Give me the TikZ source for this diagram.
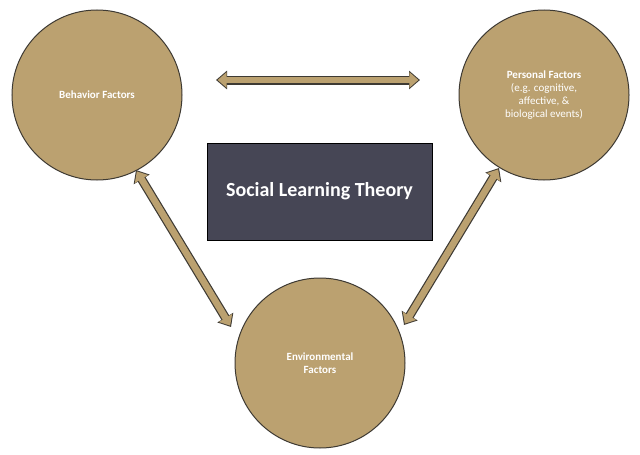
\documentclass[tikz,border=0pt]{standalone}
\usepackage{fontspec}
\setmainfont{Carlito}
\usetikzlibrary{arrows.meta}
\definecolor{tan}{HTML}{BBA170}
\definecolor{rim}{HTML}{3E3A33}
\definecolor{slate}{HTML}{464655}
\tikzset{
  circ/.style={circle,fill=tan,draw=rim,line width=1pt,minimum size=170pt,inner sep=0pt,text=white,align=center,font=\fontsize{11}{13}\selectfont},
  outerarr/.style={line width=9pt,draw=rim,{Triangle[width=18pt,length=11pt]}-{Triangle[width=18pt,length=11pt]}},
  innerarr/.style={line width=6.6pt,draw=tan,shorten <=1.6pt,shorten >=1.6pt,{Triangle[width=15pt,length=9pt]}-{Triangle[width=15pt,length=9pt]}}
}
\begin{document}
\begin{tikzpicture}[x=1pt,y=-1pt]
\useasboundingbox (0,0) rectangle (640,455);
\node[circ] (B) at (97,95) {\textbf{Behavior Factors}};
\node[circ] (P) at (544,95) {\textbf{Personal Factors}\\(e.g. cognitive,\\affective, \&\\biological events)};
\node[circ] (E) at (320,363) {\textbf{Environmental}\\\textbf{Factors}};
\node[draw=black,fill=slate,line width=0.8pt,minimum width=225pt,minimum height=97pt,text=white,font=\fontsize{20}{24}\selectfont\bfseries] (S) at (319.5,191.5) {Social Learning Theory};
\coordinate (h1) at (216,80); \coordinate (h2) at (420,80);
\coordinate (l1) at (136,170); \coordinate (l2) at (231,327);
\coordinate (r1) at (499,168); \coordinate (r2) at (404,325);
\foreach \a/\b in {h1/h2,l1/l2,r1/r2}{
  \draw[outerarr] (\a) -- (\b);
  \draw[innerarr] (\a) -- (\b);
}
\end{tikzpicture}
\end{document}
